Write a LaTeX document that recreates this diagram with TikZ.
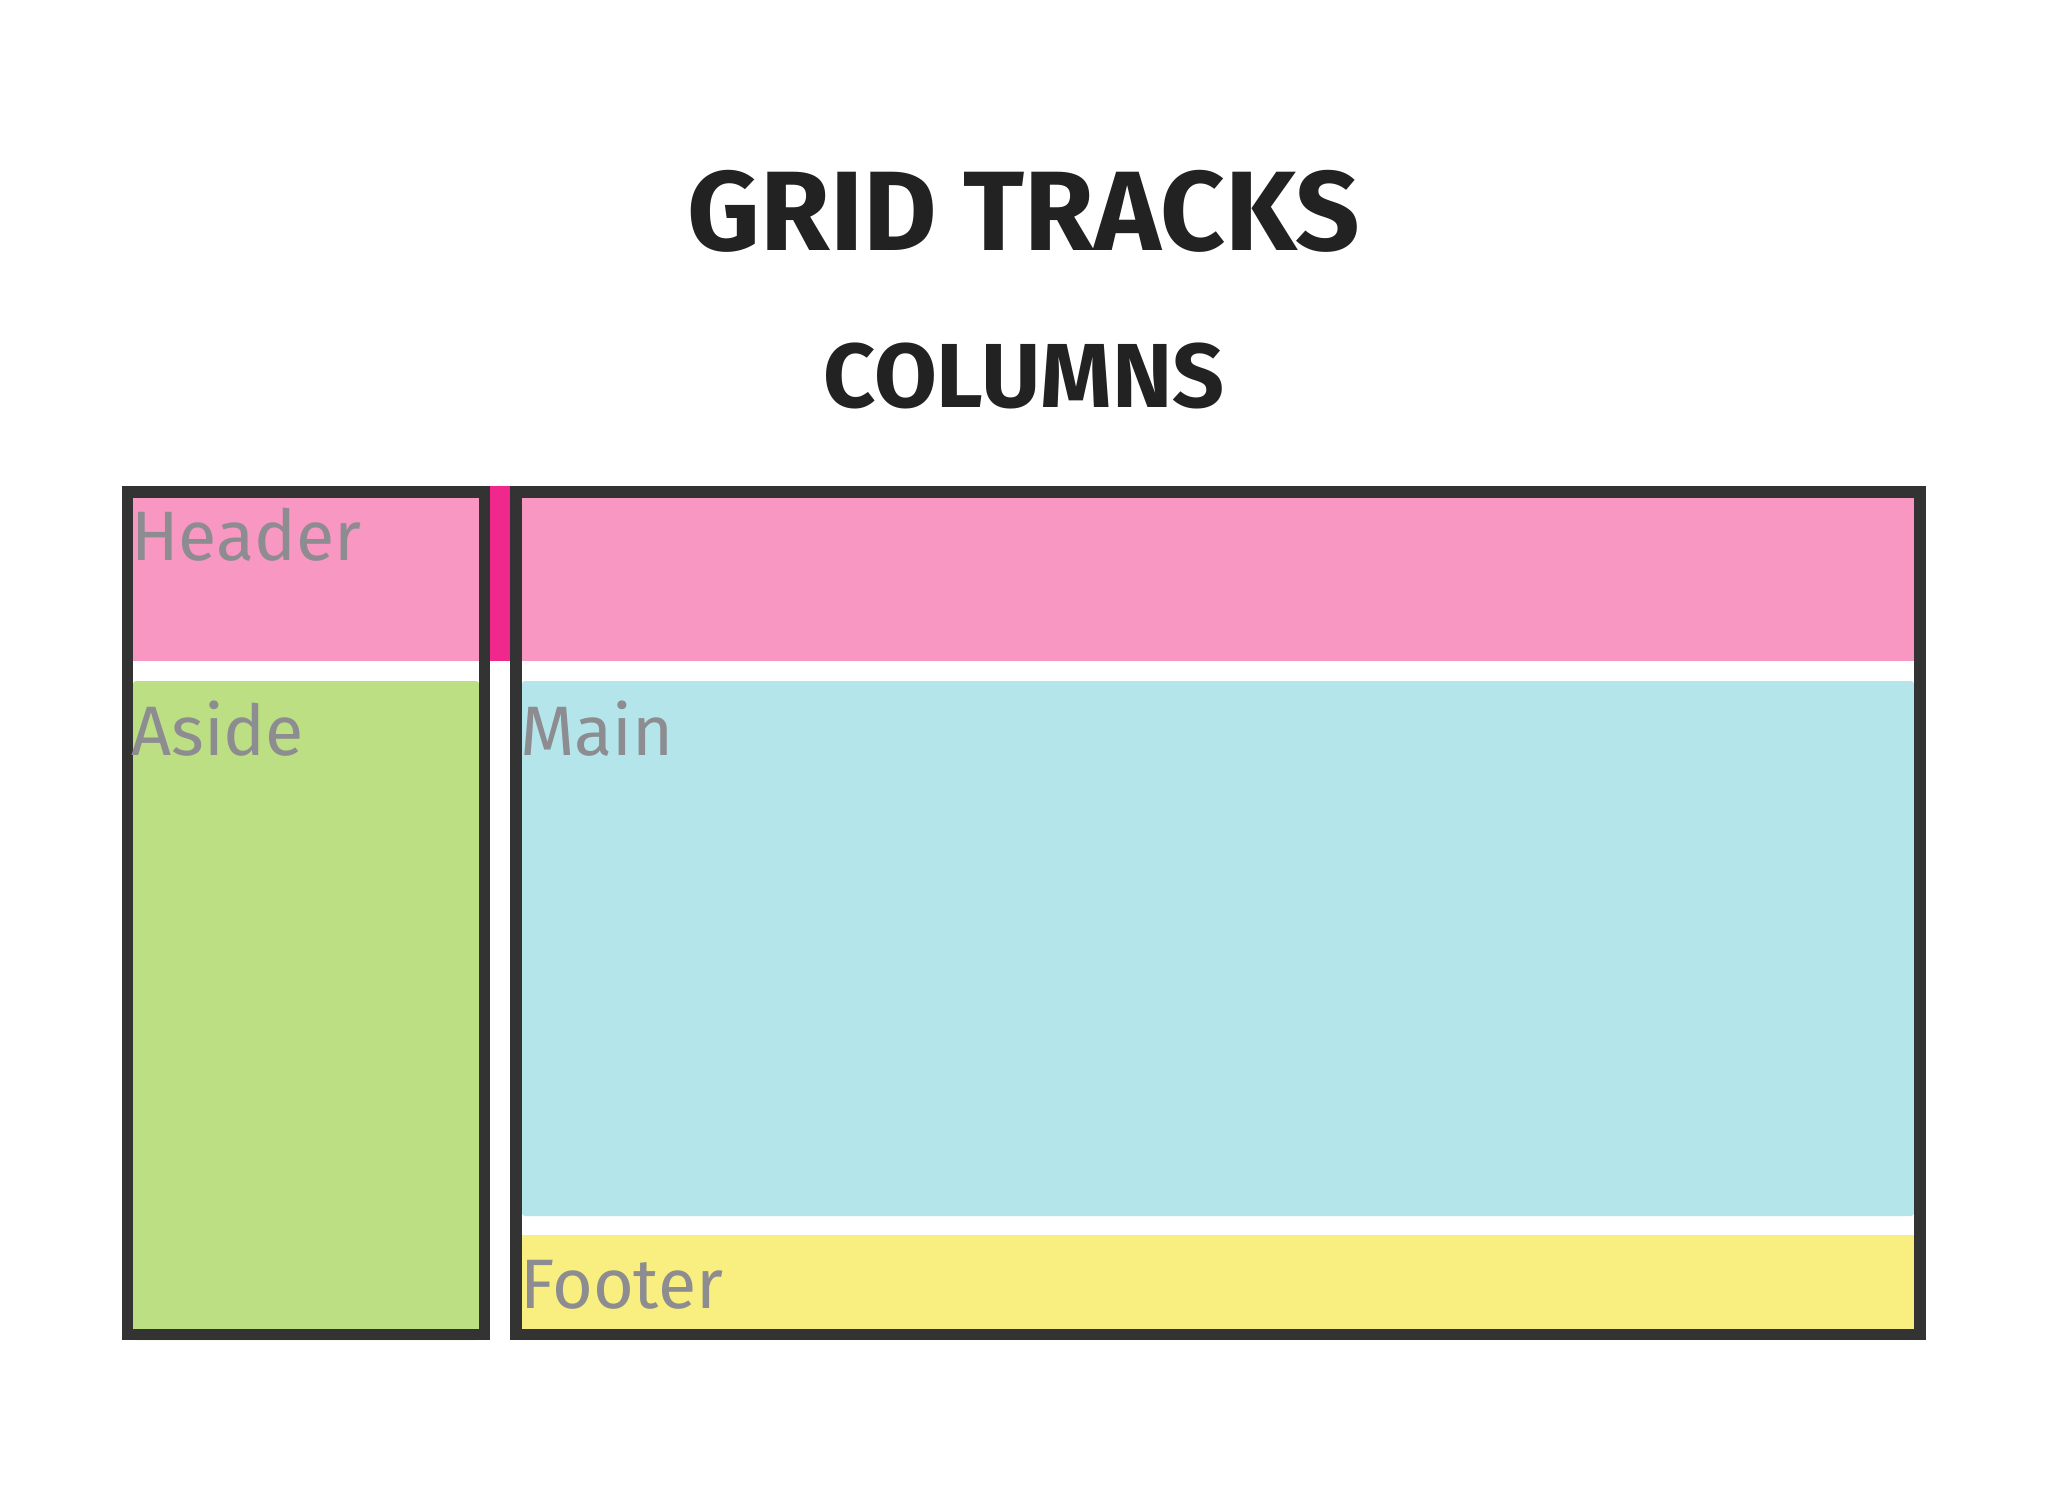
\documentclass[tikz,border=0pt]{standalone}
\usepackage{fontspec}
\setmainfont{Fira Sans}
\definecolor{hpink}{HTML}{F797C2}
\definecolor{strippink}{HTML}{F0288C}
\definecolor{agreen}{HTML}{BCDF84}
\definecolor{mblue}{HTML}{B3E5EA}
\definecolor{fyellow}{HTML}{F9EE80}
\definecolor{bordergray}{HTML}{333333}
\definecolor{titleink}{HTML}{222222}
\definecolor{labelgray}{HTML}{8C8C91}
\tikzset{
  trackbox/.style={draw=bordergray, line width=11.5pt},
  areafill/.style={rounded corners=3pt},
  arealabel/.style={anchor=base west, inner sep=0pt, text=labelgray, font=\fontsize{70}{84}\selectfont},
  titletext/.style={anchor=base, inner sep=0pt, text=titleink, font=\bfseries\fontsize{113}{130}\selectfont},
  subtitletext/.style={anchor=base, inner sep=0pt, text=titleink, font=\bfseries\fontsize{91}{110}\selectfont}
}
\begin{document}
\begin{tikzpicture}[x=1pt,y=-1pt]
\fill[white] (0,0) rectangle (2048,1492);
\useasboundingbox (0,0) rectangle (2048,1492);
% areas
\fill[hpink] (128,492) rectangle (484,661);
\fill[hpink] (516,492) rectangle (1920,661);
\fill[strippink] (490,486) rectangle (510,661);
\fill[agreen, areafill] (133,681) rectangle (479,1340);
\fill[mblue, areafill] (522,681) rectangle (1914,1216);
\fill[fyellow] (522,1235) rectangle (1914,1340);
% track outlines
\draw[trackbox] (127.5,492) rectangle (484.5,1334.5);
\draw[trackbox] (516,492) rectangle (1920,1334.5);
% labels
\node[arealabel] (header) at (131,560) {Header};
\node[arealabel] (aside) at (131,755) {Aside};
\node[arealabel] (main) at (520,755) {Main};
\node[arealabel] (footer) at (520,1308) {Footer};
% titles
\node[titletext] (title) at (1024,250) {GRID TRACKS};
\node[subtitletext] (subtitle) at (1024,407) {COLUMNS};
\end{tikzpicture}
\end{document}
